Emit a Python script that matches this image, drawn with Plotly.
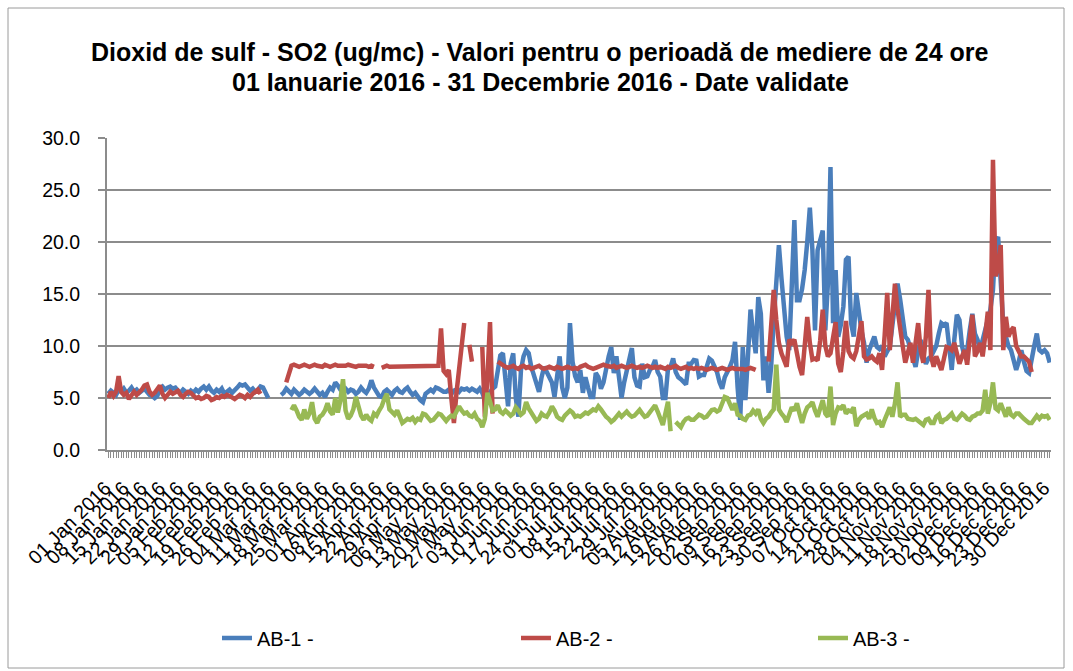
import plotly.graph_objects as go
import pandas as pd

# ---- categories: daily values, 01 Jan 2016 .. 31 Dec 2016 ----
dates = pd.date_range("2016-01-01", "2016-12-31", freq="D")
N = None

series_names = ["AB-1 -", "AB-2 -", "AB-3 -"]
series_colors = ["#4A7EBB", "#BE4B48", "#98B954"]

# AB-1 (one row per month)
ab1 = [
    5.4, 5.7, 5.5, 5.3, 5.8, 5.6, 5.9, 5.5, 5.7, 6.0, 5.6, 5.8, 5.5, 5.7, 5.9, 5.6, 5.3, 5.2, 5.0, 5.2, 5.9, 6.1, 5.8, 6.0, 6.1, 5.9, 6.0, 5.7, 5.5, 5.8, 5.6,
    5.4, 5.7, 5.5, 5.8, 5.6, 5.9, 6.1, 5.8, 6.1, 5.7, 5.5, 5.8, 5.6, 5.9, 5.4, 5.6, 5.8, 5.5, 5.7, 6.0, 6.3, 6.2, 6.3, 5.9, 5.7, 5.9, 5.6, 5.8, 6.1,
    6.0, 5.4, 5.0, N, N, N, N, 5.3, 5.5, 5.9, 5.6, 5.4, 5.8, 5.6, 5.3, 5.5, 5.8, 5.6, 5.4, 5.6, 5.9, 5.6, 5.3, 5.5, 5.1, 5.6, 6.0, 5.8, 6.5, 6.2, 5.8,
    5.7, 5.9, 5.6, 5.8, 5.7, 5.4, 5.6, 6.0, 5.7, 5.5, 5.9, 6.7, 6.0, 5.5, 5.2, 5.1, 5.6, 5.8, 5.5, 5.3, 5.7, 5.9, 5.6, 5.5, 5.8, 6.0, 5.6, 5.3, 5.5, 5.1,
    4.8, 4.6, 5.4, 5.6, 5.8, 5.6, 6.0, 5.9, 5.7, 5.6, 5.6, 5.8, 5.4, 5.7, 5.8, 5.6, 5.9, 5.8, 5.9, 5.7, 5.9, 5.8, 5.6, 5.9, 5.5, 4.8, 5.2, 5.5, 5.9, 6.1, 7.5,
    9.1, 9.3, 6.5, 4.2, 8.3, 9.3, 5.0, 3.2, 7.7, 9.0, 9.6, 9.3, 8.0, 7.2, 6.2, 5.6, 7.0, 8.0, 7.5, 7.0, 6.5, 5.1, 7.5, 9.0, 6.0, 5.0, 6.0, 12.2, 8.5, 7.1,
    6.5, 7.7, 5.5, 7.0, 6.0, 5.1, 5.1, 7.4, 7.0, 5.9, 6.5, 8.0, 9.0, 9.9, 7.4, 9.0, 7.0, 5.0, 6.5, 7.7, 8.5, 9.8, 7.0, 6.2, 6.1, 8.3, 7.0, 7.1, 7.7, 8.0, 8.65,
    7.5, 7.05, 5.0, 5.0, 7.8, 8.0, 8.8, 7.5, 7.0, 6.8, 6.5, 6.3, 8.3, 8.3, 8.65, 8.6, 7.05, 7.2, 7.2, 8.0, 8.8, 8.6, 8.0, 7.5, 6.5, 5.9, 7.0, 7.4, 8.0, 8.65, 10.4,
    6.0, 2.9, 9.9, 4.8, 9.0, 13.5, 11.2, 9.3, 14.7, 13.1, 6.7, 9.0, 5.5, 8.0, 12.5, 16.0, 19.7, 16.5, 13.0, 10.9, 9.6, 16.0, 22.1, 14.4, 14.4, 15.5, 17.3, 20.0, 23.3, 19.2,
    11.5, 19.2, 20.0, 21.1, 11.5, 16.0, 27.2, 12.2, 17.3, 10.9, 12.0, 13.8, 18.3, 18.6, 12.2, 10.9, 15.1, 12.8, 11.5, 10.3, 8.4, 9.6, 10.2, 10.9, 9.9, 9.7, 10.0, 9.0, 9.5, 9.9, 12.0,
    14.0, 16.0, 14.5, 13.0, 10.9, 10.6, 9.6, 9.0, 8.0, 9.5, 10.6, 9.0, 8.3, 8.8, 9.0, 9.5, 10.0, 11.2, 12.2, 12.0, 12.2, 10.0, 7.7, 10.6, 13.0, 12.5, 10.0, 9.0, 9.6, 11.5,
    13.1, 11.2, 10.6, 9.6, 10.5, 11.5, 12.5, 13.5, 15.4, 20.0, 20.5, 15.4, 12.0, 10.9, 10.0, 9.6, 8.5, 7.7, 8.5, 9.6, 8.5, 7.6, 7.4, 9.0, 10.0, 11.2, 9.6, 9.4, 9.6, 9.3, 8.4,
]

# AB-2
ab2 = [
    5.0, 5.6, 5.2, 5.6, 7.1, 5.6, 5.3, 5.5, 4.9, 5.2, 5.6, 5.3, 5.5, 5.8, 6.2, 6.3, 5.6, 5.3, 5.5, 5.9, 6.2, 5.4, 5.0, 5.3, 5.6, 5.4, 5.5, 5.7, 5.3, 5.1, 5.4,
    5.6, 5.5, 5.2, 5.0, 5.1, 4.9, 5.0, 5.2, 5.1, 4.8, 4.9, 5.1, 5.0, 5.2, 5.1, 5.3, 5.2, 5.0, 4.9, 5.1, 5.3, 5.2, 5.0, 5.3, 5.1, 5.4, 5.6, 5.8, 5.4,
    N, N, N, N, N, N, N, N, N, 6.5, 7.5, 8.1, 8.2, 8.1, 8.0, 8.1, 8.2, 8.1, 8.0, 8.1, 8.2, 8.1, 8.1, 8.0, 8.2, 8.1, 8.0, 8.1, 8.2, 8.1, 8.1,
    8.0, 8.1, 8.2, 8.1, 8.0, 8.0, 8.1, 8.1, 8.2, 8.1, 8.0, 8.1, 8.0, N, N, 7.9, 8.0, 8.1, 8.0, 8.0, 8.1, 8.0, 8.1, 8.0, 8.1, 8.0, 8.1, 8.0, 8.1, 8.0,
    8.1, 8.0, 8.1, 8.0, 8.1, 8.1, 8.0, 8.1, 11.7, 7.6, 7.3, 7.7, 5.0, 2.6, 5.5, 8.0, 10.5, 12.2, N, 10.1, 8.5, N, N, N, 9.9, 3.2, 7.0, 12.3, 3.5, N, 8.5,
    8.3, 8.1, 8.0, 7.9, 8.0, 8.1, 7.9, 7.8, 8.0, 8.1, 7.9, 8.0, 7.8, 7.9, 8.0, 8.1, 7.9, 7.8, 7.9, 8.0, 7.9, 7.8, 8.0, 7.9, 7.8, 7.9, 8.0, 7.9, 7.8, 7.9,
    7.8, 8.0, 8.1, 8.2, 8.0, 7.9, 7.8, 7.9, 8.0, 8.1, 8.2, 8.1, 8.0, 8.0, 8.1, 7.9, 8.0, 8.1, 8.0, 7.9, 8.0, 8.1, 8.0, 7.9, 8.0, 7.9, 8.0, 8.1, 8.0, 7.9, 8.0,
    7.9, 8.0, 7.9, 7.8, 8.0, 7.9, 8.0, 8.1, 7.9, 7.8, 7.9, 8.0, 7.8, 7.9, 7.8, 7.9, 7.8, 7.9, 7.8, 7.7, 7.8, 7.9, 7.8, 7.7, 7.8, 7.9, 7.8, 7.7, 7.8, 7.9, 7.8,
    7.8, 7.9, 7.8, 7.7, 7.8, 7.9, 7.8, 7.7, N, N, N, N, 8.5, 12.0, 15.4, 12.5, 10.3, 9.3, 8.5, 8.0, 10.6, 10.3, 10.6, 9.0, 8.0, 7.2, 10.0, 12.8, 10.3, 8.7,
    8.8, 8.6, 10.5, 13.5, 10.0, 9.0, 9.3, 11.0, 12.3, 8.3, 7.5, 9.5, 12.4, 9.5, 9.0, 8.8, 9.5, 11.0, 12.4, 9.0, 8.7, 8.8, 9.0, 8.7, 8.5, 9.3, 7.7, 11.0, 15.1, 9.6, 13.0,
    16.0, 13.5, 11.5, 10.0, 8.4, 9.5, 10.3, 8.4, 10.0, 12.2, 9.5, 8.4, 11.0, 15.4, 9.0, 8.0, 9.0, 8.2, 7.7, 8.8, 9.9, 9.8, 9.6, 10.3, 9.2, 8.3, 9.0, 9.6, 8.2, 11.0,
    13.0, 9.0, 9.5, 10.3, 9.0, 11.0, 13.3, 9.6, 27.9, 16.7, 17.5, 19.7, 9.6, 12.8, 10.9, 11.5, 11.8, 10.0, 9.6, 9.0, 9.0, 8.8, 8.5, 7.5, N, N, N, N, N, N, N,
]

# AB-3
ab3 = [
    N, N, N, N, N, N, N, N, N, N, N, N, N, N, N, N, N, N, N, N, N, N, N, N, N, N, N, N, N, N, N,
    N, N, N, N, N, N, N, N, N, N, N, N, N, N, N, N, N, N, N, N, N, N, N, N, N, N, N, N, N,
    N, N, N, N, N, N, N, N, N, N, N, 3.85, 4.3, 3.8, 3.2, 2.9, 3.9, 3.0, 3.5, 4.6, 3.0, 2.6, 3.2, 3.4, 3.8, 4.5, 3.7, 3.4, 5.0, 3.6, 4.8,
    6.8, 3.8, 3.0, 3.3, 3.9, 5.1, 4.2, 3.3, 2.9, 3.4, 3.0, 2.8, 3.5, 3.3, 3.8, 4.2, 4.9, 5.4, 3.9, 3.6, 3.4, 3.8, 3.2, 2.6, 2.8, 3.0, 2.9, 3.1, 2.7, 3.0,
    2.9, 3.5, 3.4, 3.1, 2.8, 2.9, 3.3, 3.5, 3.4, 3.0, 2.8, 3.1, 3.3, 3.2, 3.7, 4.2, 3.8, 3.5, 3.6, 3.3, 3.2, 3.5, 3.0, 2.8, 2.2, 3.0, 5.5, 4.5, 3.8, 3.9, 4.3,
    3.7, 3.5, 3.8, 3.6, 3.3, 3.5, 4.1, 3.8, 3.4, 3.6, 4.6, 4.0, 3.6, 3.2, 2.8, 3.0, 3.5, 3.3, 3.2, 3.6, 4.2, 3.8, 3.2, 3.0, 2.9, 3.3, 3.5, 3.8, 3.6, 3.2,
    3.3, 3.2, 3.4, 3.6, 3.5, 3.7, 3.9, 3.8, 4.2, 3.9, 3.5, 3.2, 3.0, 2.7, 2.9, 3.3, 3.5, 3.2, 3.4, 3.7, 3.4, 3.2, 3.3, 3.6, 3.85, 3.5, 3.2, 3.3, 3.6, 3.85, 4.3,
    3.7, 2.9, 2.4, 3.5, 4.65, 1.8, N, 2.7, 2.4, 2.2, 2.7, 3.0, 3.1, 2.9, 2.9, 3.2, 3.4, 3.3, 3.1, 3.2, 3.5, 3.85, 3.9, 3.7, 3.85, 4.6, 5.1, 5.0, 4.4, 3.85, 4.5,
    3.4, 3.3, 3.0, 2.9, 3.3, 3.4, 3.8, 3.5, 3.9, 3.0, 2.6, 3.0, 3.2, 3.6, 3.9, 8.2, 3.9, 3.5, 3.2, 2.7, 3.3, 4.1, 3.8, 4.5, 3.5, 2.6, 3.5, 4.1, 4.3, 4.6,
    3.8, 3.2, 4.0, 4.8, 3.5, 3.2, 6.1, 2.4, 3.5, 4.1, 4.0, 4.3, 3.5, 3.8, 3.7, 4.1, 2.3, 2.9, 3.2, 3.3, 3.5, 3.0, 3.9, 3.1, 2.6, 2.7, 2.2, 2.9, 3.5, 4.1, 3.2,
    4.5, 6.5, 3.2, 3.4, 3.4, 3.0, 2.9, 2.9, 3.0, 2.8, 2.6, 2.4, 2.9, 3.0, 2.6, 2.6, 3.2, 3.4, 2.6, 2.9, 3.0, 3.2, 3.5, 3.0, 2.9, 3.2, 3.5, 3.3, 3.0, 2.9,
    3.2, 3.3, 3.5, 3.5, 3.8, 5.8, 3.5, 4.5, 6.5, 4.0, 3.8, 4.5, 3.9, 3.2, 4.1, 3.4, 3.2, 3.5, 3.5, 3.2, 3.0, 2.8, 2.6, 2.6, 3.0, 3.3, 3.0, 3.3, 3.2, 3.3, 2.9,
]

y_ticks = [0, 5, 10, 15, 20, 25, 30]
title_lines = [
    "Dioxid de sulf - SO2 (ug/mc) - Valori pentru o perioadă de mediere de 24 ore",
    "01 Ianuarie 2016 - 31 Decembrie 2016 - Date validate",
]


def fit(v):
    v = list(v)[: len(dates)]
    return v + [None] * (len(dates) - len(v))


FONT = "Liberation Sans, Arial, sans-serif"
GRID = "#8C8C8C"

W, H = 1073, 671
L, R, T, B = 107, 22, 138, 221
pw, ph = W - L - R, H - T - B


def px_x(p):
    return (p - L) / pw


def px_y(p):
    return (H - B - p) / ph


legend_ids = ["legend", "legend2", "legend3"]
legend_text_x = [257, 556, 853]

fig = go.Figure()
for name, vals, col, lid in zip(series_names, [ab1, ab2, ab3], series_colors, legend_ids):
    fig.add_trace(go.Scatter(
        x=dates, y=fit(vals), name=name, mode="lines", legend=lid,
        line=dict(color=col, width=4.5), connectgaps=False,
    ))

annotations = []
for text, yy in zip(title_lines, [52, 82]):
    annotations.append(dict(
        text="<b>%s</b>" % text, x=px_x(540), y=px_y(yy), xref="paper", yref="paper",
        xanchor="center", yanchor="middle", showarrow=False,
        font=dict(family=FONT, size=25, color="black"),
    ))

legends = {}
for lid, tx in zip(legend_ids, legend_text_x):
    legends[lid] = dict(
        orientation="h", x=px_x(tx - 40), y=px_y(638), xanchor="left", yanchor="middle",
        font=dict(family=FONT, size=20), bgcolor="rgba(0,0,0,0)",
    )

fig.update_layout(
    width=W, height=H,
    margin=dict(l=L, r=R, t=T, b=B, autoexpand=False),
    paper_bgcolor="white", plot_bgcolor="white",
    font=dict(family=FONT, color="black"),
    annotations=annotations,
    showlegend=True,
    shapes=[dict(
        type="rect", xref="paper", yref="paper",
        x0=px_x(8), x1=px_x(1064), y0=px_y(668), y1=px_y(8),
        line=dict(color="#9A9A9A", width=1), fillcolor="rgba(0,0,0,0)", layer="below",
    )],
    **legends,
)

fig.update_xaxes(
    type="date",
    range=["2015-12-31 12:00", "2016-12-31 12:00"],
    tick0="2016-01-01", dtick=7 * 86400000, tickformat="%d %b %Y",
    tickangle=-45, ticks="outside", ticklen=6, tickcolor=GRID, tickwidth=1,
    tickfont=dict(family=FONT, size=19.5),
    ticklabelstandoff=11, ticklabelshift=-3,
    minor=dict(dtick=86400000, tick0="2016-01-01", ticks="outside", ticklen=6,
               tickcolor=GRID, tickwidth=1, showgrid=False),
    showgrid=False, showline=True, linecolor=GRID, linewidth=2,
    zeroline=False,
)
fig.update_yaxes(
    range=[0, 30], tickvals=y_ticks, tickformat=".1f",
    ticks="outside", ticklen=7, tickcolor=GRID, tickwidth=1.5,
    ticklabelstandoff=14,
    tickfont=dict(family=FONT, size=19.5),
    showgrid=True, gridcolor=GRID, gridwidth=1.5,
    showline=True, linecolor=GRID, linewidth=2, zeroline=False,
)

fig.write_html(
    "out.html",
    config={"displayModeBar": False},
    post_script="document.body.style.margin='0px'; document.body.style.padding='0px';",
)
